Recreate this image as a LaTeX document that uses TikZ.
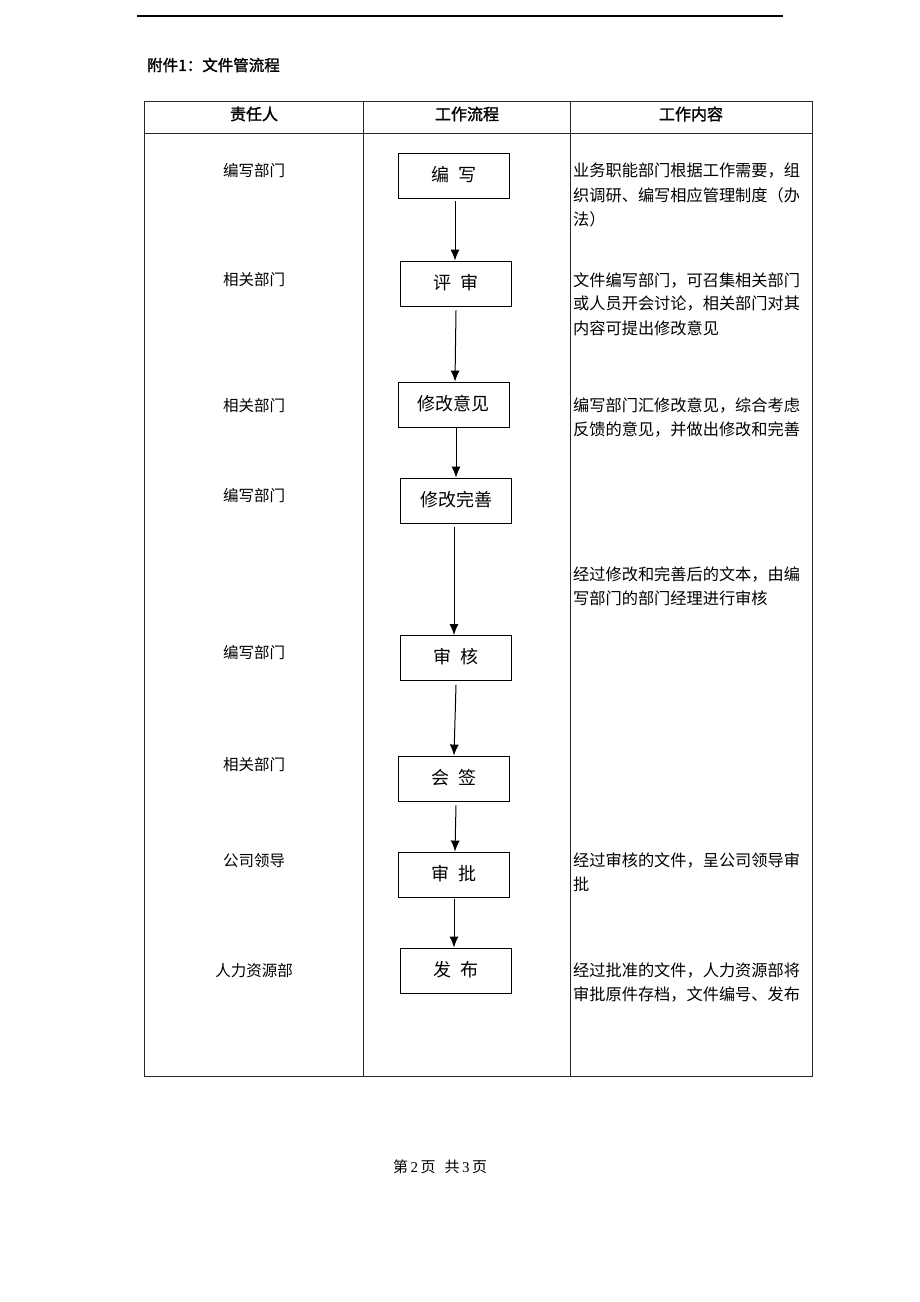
\documentclass[tikz,border=0pt]{standalone}
\usepackage{fontspec}
\usetikzlibrary{arrows.meta}
\newfontfamily\cjk[AutoFakeBold=1.6]{Noto Sans CJK SC}
\newfontfamily\numfont{Liberation Serif}
\newcommand{\upbox}[1]{\raisebox{4pt}{#1}}
\begin{document}
\begin{tikzpicture}[x=1pt,y=-1pt,
  every node/.style={font=\cjk, inner sep=0pt},
  tline/.style={line width=1pt, draw=black!85},
  flowbox/.style={draw, line width=0.9pt, minimum width=111pt, minimum height=45pt, font=\cjk\fontsize{18}{20}\selectfont},
  who/.style={font=\cjk\fontsize{15.5}{18}\selectfont},
  desc/.style={anchor=west, font=\cjk\fontsize{16.2}{20}\selectfont},
  head/.style={font=\cjk\bfseries\fontsize{16}{20}\selectfont},
  flowarrow/.style={line width=1pt, -{Latex[length=11pt,width=9pt]}}
]
\useasboundingbox (0,0) rectangle (920,1302);
% top rule
\draw[line width=1.1pt] (137,16) -- (783,16);
% title
\node[anchor=west, font=\cjk\bfseries\fontsize{15.5}{18}\selectfont] (title) at (147,65) {附件1：文件管流程};
% table
\draw[tline] (144,101) rectangle (812,1076);
\draw[tline] (144,133) -- (812,133);
\draw[tline] (363,101) -- (363,1076);
\draw[tline] (570,101) -- (570,1076);
\node[head] (h1) at (254,114) {责任人};
\node[head] (h2) at (467,114) {工作流程};
\node[head] (h3) at (691,114) {工作内容};
% left column
\node[who] (w1) at (254,171) {编写部门};
\node[who] (w2) at (254,280) {相关部门};
\node[who] (w3) at (254,406) {相关部门};
\node[who] (w4) at (254,496) {编写部门};
\node[who] (w5) at (254,653) {编写部门};
\node[who] (w6) at (254,765) {相关部门};
\node[who] (w7) at (254,861) {公司领导};
\node[who] (w8) at (254,971) {人力资源部};
% flow boxes
\node[flowbox] (b1) at (453.5,175.5) {\upbox{编\hspace{0.5em}写}};
\node[flowbox] (b2) at (455.5,283.5) {\upbox{评\hspace{0.5em}审}};
\node[flowbox] (b3) at (453.5,404.5) {\upbox{修改意见}};
\node[flowbox] (b4) at (456,500.5) {\upbox{修改完善}};
\node[flowbox] (b5) at (455.5,658) {\upbox{审\hspace{0.5em}核}};
\node[flowbox] (b6) at (453.5,778.5) {\upbox{会\hspace{0.5em}签}};
\node[flowbox] (b7) at (453.5,874.5) {\upbox{审\hspace{0.5em}批}};
\node[flowbox] (b8) at (455.5,970.5) {\upbox{发\hspace{0.5em}布}};
% arrows
\draw[flowarrow] ([xshift=1.5pt,yshift=-3pt]b1.south) -- ([xshift=-0.5pt]b2.north);
\draw[flowarrow] ([xshift=0.5pt,yshift=-4pt]b2.south) -- ([xshift=1.5pt]b3.north);
\draw[flowarrow] ([xshift=2.5pt,yshift=-1pt]b3.south) -- (b4.north);
\draw[flowarrow] ([xshift=-2pt,yshift=-4pt]b4.south) -- ([xshift=-1.5pt]b5.north);
\draw[flowarrow] ([xshift=0.5pt,yshift=-4pt]b5.south) -- ([xshift=0.5pt]b6.north);
\draw[flowarrow] ([xshift=2.5pt,yshift=-4pt]b6.south) -- ([xshift=1.5pt]b7.north);
\draw[flowarrow] ([xshift=0.5pt,yshift=-2pt]b7.south) -- ([xshift=-1.5pt]b8.north);
% right column descriptions
\node[desc] (d1a) at (573,171) {业务职能部门根据工作需要，组};
\node[desc] (d1b) at (573,195) {织调研、编写相应管理制度（办};
\node[desc] (d1c) at (573,219) {法）};
\node[desc] (d2a) at (573,280) {文件编写部门，可召集相关部门};
\node[desc] (d2b) at (573,304) {或人员开会讨论，相关部门对其};
\node[desc] (d2c) at (573,328) {内容可提出修改意见};
\node[desc] (d3a) at (573,405) {编写部门汇修改意见，综合考虑};
\node[desc] (d3b) at (573,429) {反馈的意见，并做出修改和完善};
\node[desc] (d4a) at (573,574) {经过修改和完善后的文本，由编};
\node[desc] (d4b) at (573,598) {写部门的部门经理进行审核};
\node[desc] (d5a) at (573,860) {经过审核的文件，呈公司领导审};
\node[desc] (d5b) at (573,884) {批};
\node[desc] (d6a) at (573,970) {经过批准的文件，人力资源部将};
\node[desc] (d6b) at (573,994) {审批原件存档，文件编号、发布};
% footer
\node[font=\cjk\fontsize{15}{18}\selectfont] (foot) at (440,1167) {第\,{\numfont 2}\,页\hspace{0.6em}共\,{\numfont 3}\,页};
\end{tikzpicture}
\end{document}
